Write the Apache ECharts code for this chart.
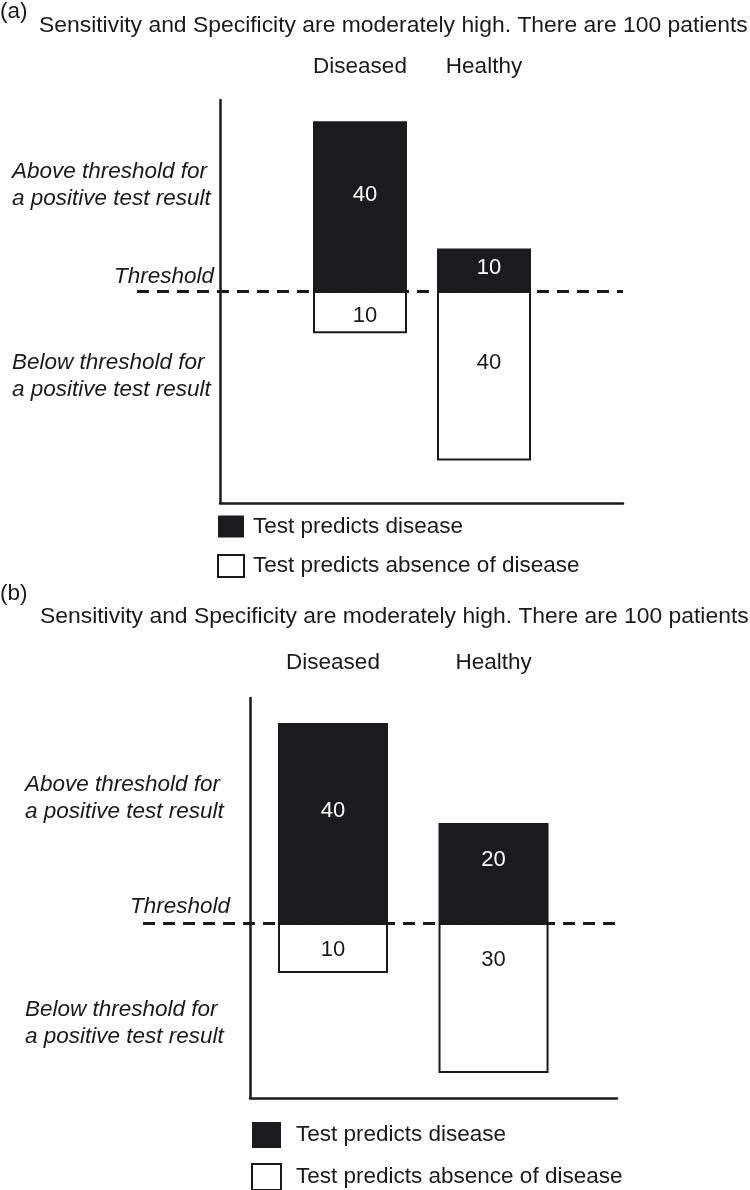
<!DOCTYPE html>
<html><head><meta charset="utf-8">
<script src="https://cdn.jsdelivr.net/npm/echarts@6/dist/echarts.min.js"></script>
<style>html,body{margin:0;padding:0;background:#fff}#chart{width:750px;height:1190px}</style>
</head><body><div id="chart"></div>
<script>
// ---------- data ----------
const categories = ['Diseased', 'Healthy'];
const legendNames = ['Test predicts disease', 'Test predicts absence of disease'];
const panelTags = ['(a)', '(b)'];
const panelTitles = [
  'Sensitivity and Specificity are moderately high. There are 100 patients',
  'Sensitivity and Specificity are moderately high. There are 100 patients'
];
const predictsDiseaseA = [40, 10];
const predictsAbsenceA = [10, 40];
const predictsDiseaseB = [40, 20];
const predictsAbsenceB = [10, 30];
const rowLabels = ['Above threshold for\na positive test result', 'Below threshold for\na positive test result'];
const thresholdLabel = 'Threshold';
const thresholdValue = 0;

// ---------- layout / style ----------
const FONT = '"Liberation Sans", Arial, Helvetica, sans-serif';
const INK = '#1a1a1a';
const BAR_DARK = '#1b1a1c';
const FS = 22.5;
const rowLabelValues = [25, -20];
const thresholdLabelValue = 3.3;

const panels = [
  { tagTop: 0, titleLeft: 39, titleTop: 14,
    grid: { left: 220, top: 100, width: 403, height: 403 },
    x: [-0.129, 3.121], y: [-50, 45], barWidth: 94, lineStart: 137,
    catMargin: 22, rowMargin: 208, thrMargin: 6,
    legend: { left: 217, top: 515, w: 26, h: 22, gap: 16, pad: [0, 0, 6, 4] },
    offsets: { dark: [[5, -11], [5, -2]], light: [[5, 4], [5, -13]] },
    disease: predictsDiseaseA, absence: predictsAbsenceA },
  { tagTop: 582, titleLeft: 40, titleTop: 605,
    grid: { left: 250, top: 698, width: 367, height: 400 },
    x: [0.483, 2.769], y: [-35, 45], barWidth: 110, lineStart: 143,
    catMargin: 24, rowMargin: 225, thrMargin: 20,
    legend: { left: 251, top: 1122, w: 29, h: 26, gap: 15, pad: [0, 0, 3, 10] },
    offsets: { dark: [[0, -12], [0, -13]], light: [[0, 2], [0, -38]] },
    disease: predictsDiseaseB, absence: predictsAbsenceB }
];

const option = {
  animation: false,
  backgroundColor: '#fff',
  textStyle: { fontFamily: FONT },
  title: [], grid: [], xAxis: [], yAxis: [], series: [], legend: []
};

panels.forEach((p, k) => {
  const ts = { fontFamily: FONT, fontSize: FS, fontWeight: 'normal', color: INK };
  option.title.push({ text: panelTags[k], left: 0, top: p.tagTop, padding: 0, textStyle: ts });
  option.title.push({ text: panelTitles[k], left: p.titleLeft, top: p.titleTop, padding: 0,
    textStyle: Object.assign({}, ts, { fontSize: 22.9 }) });

  option.grid.push(Object.assign({ containLabel: false, outerBoundsMode: 'none' }, p.grid));

  const xi = option.xAxis.length;
  option.xAxis.push({
    type: 'value', gridIndex: k, min: p.x[0], max: p.x[1], position: 'bottom',
    axisLine: { show: true, onZero: false, lineStyle: { color: INK, width: 2.5 } },
    axisTick: { show: false }, axisLabel: { show: false }, splitLine: { show: false }
  });
  option.xAxis.push({
    type: 'value', gridIndex: k, min: p.x[0], max: p.x[1], position: 'top',
    axisLine: { show: false }, axisTick: { show: false }, splitLine: { show: false },
    axisLabel: {
      show: true, customValues: categories.map((c, i) => i + 1),
      formatter: v => categories[Math.round(v) - 1] || '',
      margin: p.catMargin, fontSize: FS, color: INK, fontFamily: FONT
    }
  });

  const yi = option.yAxis.length;
  option.yAxis.push({
    type: 'value', gridIndex: k, min: p.y[0], max: p.y[1], position: 'left',
    axisLine: { show: true, onZero: false, lineStyle: { color: INK, width: 2.5 } },
    axisTick: { show: false }, splitLine: { show: false },
    axisLabel: {
      show: true, customValues: [thresholdLabelValue], formatter: () => thresholdLabel,
      margin: p.thrMargin, align: 'right', fontStyle: 'italic', fontSize: FS, color: INK, fontFamily: FONT
    }
  });
  option.yAxis.push({
    type: 'value', gridIndex: k, min: p.y[0], max: p.y[1], position: 'left',
    axisLine: { show: false }, axisTick: { show: false }, splitLine: { show: false },
    axisLabel: {
      show: true, customValues: rowLabelValues,
      formatter: v => (v > 0 ? rowLabels[0] : rowLabels[1]),
      margin: p.rowMargin, align: 'left', lineHeight: 27, fontStyle: 'italic',
      fontSize: FS, color: INK, fontFamily: FONT
    }
  });

  const labelBase = { show: true, position: 'inside', fontSize: 22, fontFamily: FONT,
    formatter: d => Math.abs(d.value[1]) };

  option.series.push({
    name: legendNames[0], type: 'bar', xAxisIndex: xi, yAxisIndex: yi, stack: 'p' + k,
    barWidth: p.barWidth, itemStyle: { color: BAR_DARK }, emphasis: { disabled: true },
    label: Object.assign({ color: '#ffffff' }, labelBase),
    data: p.disease.map((v, i) => ({ value: [i + 1, v], label: { offset: p.offsets.dark[i] } })),
    markLine: {
      silent: true, symbol: ['none', 'none'], label: { show: false }, z: 10,
      lineStyle: { color: INK, width: 3, type: [12, 8] },
      data: [[{ xAxis: p.x[0], yAxis: thresholdValue, x: p.lineStart },
              { xAxis: p.x[1], yAxis: thresholdValue }]]
    }
  });
  option.series.push({
    name: legendNames[1], type: 'bar', xAxisIndex: xi, yAxisIndex: yi, stack: 'p' + k,
    barWidth: p.barWidth, itemStyle: { color: '#ffffff', borderColor: INK, borderWidth: 2 },
    emphasis: { disabled: true },
    label: Object.assign({ color: INK }, labelBase),
    data: p.absence.map((v, i) => ({ value: [i + 1, -v], label: { offset: p.offsets.light[i] } }))
  });

  option.legend.push({
    data: legendNames, orient: 'vertical', left: p.legend.left, top: p.legend.top, padding: 0,
    width: 480, height: 120,
    itemWidth: p.legend.w, itemHeight: p.legend.h, itemGap: p.legend.gap, icon: 'rect',
    selectedMode: false,
    textStyle: { fontSize: FS, color: INK, fontFamily: FONT, padding: p.legend.pad }
  });
});

const chart = echarts.init(document.getElementById('chart'), null, { renderer: 'canvas' });
chart.setOption(option);
</script>
</body></html>
